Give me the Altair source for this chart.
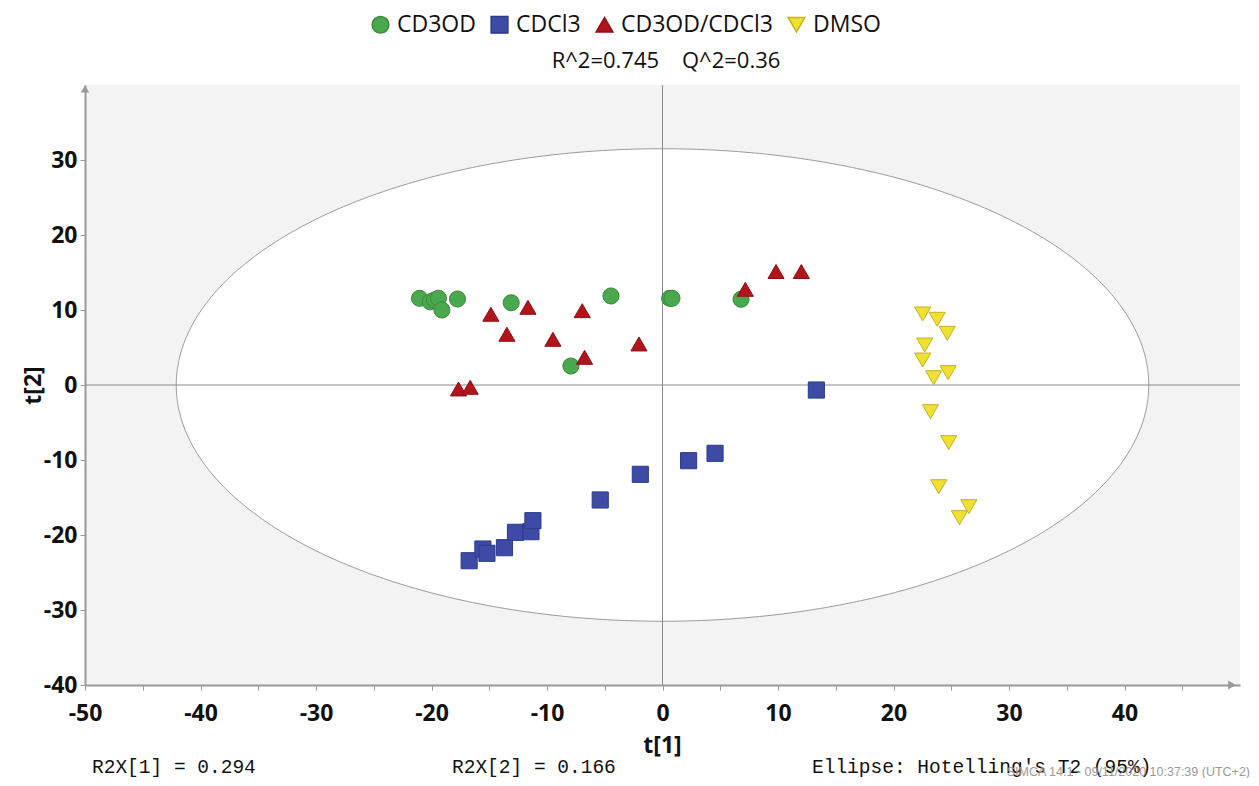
import numpy as np
import pandas as pd
import altair as alt

# ---- data ----
groups = ["CD3OD", "CDCl3", "CD3OD/CDCl3", "DMSO"]

cd3od_t1 = [-21.04, -20.11, -19.74, -19.40, -19.10, -17.75, -13.10, -7.93, -4.46, 0.62, 0.82, 6.80]
cd3od_t2 = [11.56, 11.10, 11.33, 11.56, 10.00, 11.47, 10.97, 2.53, 11.87, 11.56, 11.56, 11.43]

cdcl3_t1 = [-16.74, -15.55, -15.20, -13.68, -12.73, -11.39, -11.22, -5.39, -1.92, 2.26, 4.55, 13.32]
cdcl3_t2 = [-23.43, -21.87, -22.44, -21.69, -19.64, -19.56, -18.09, -15.33, -11.91, -10.09, -9.11, -0.67]

mix_t1 = [-14.86, -13.47, -11.65, -9.49, -6.95, -6.75, -2.04, -17.66, -16.65, 7.17, 9.83, 12.02]
mix_t2 = [9.43, 6.76, 10.36, 6.09, 9.91, 3.69, 5.47, -0.53, -0.31, 12.76, 15.13, 15.13]

dmso_t1 = [22.53, 23.78, 24.65, 22.70, 22.53, 23.48, 24.73, 23.20, 24.78, 23.92, 26.52, 25.71]
dmso_t2 = [9.47, 8.76, 6.89, 5.33, 3.33, 0.97, 1.64, -3.56, -7.69, -13.56, -16.23, -17.69]

ellipse_a = 42.1   # Hotelling's T2 semi-axis along t[1]
ellipse_b = 31.5   # semi-axis along t[2]

x_ticks = list(range(-50, 50, 5))
y_ticks = list(range(-40, 40, 5))

NB = "\u00a0"
subtitle = "R^2=0.745" + NB * 4 + "Q^2=0.36"
r2x1 = "R2X[1] = 0.294"
r2x2 = "R2X[2] = 0.166"
ell_txt = "Ellipse: Hotelling's T2 (95%)"
simca = "SIMCA 14.1 - 09/11/2020 10:37:39 (UTC+2)"

# ---- build tables ----
rows = []
for g, xs, ys in [(groups[0], cd3od_t1, cd3od_t2), (groups[1], cdcl3_t1, cdcl3_t2),
                  (groups[2], mix_t1, mix_t2), (groups[3], dmso_t1, dmso_t2)]:
    for a, b in zip(xs, ys):
        rows.append({"group": g, "t1": a, "t2": b})
pts = pd.DataFrame(rows)

th = np.linspace(0, np.pi, 361)
ell_fill = pd.DataFrame({"x": ellipse_a * np.cos(th), "ylo": -ellipse_b * np.sin(th),
                         "yhi": ellipse_b * np.sin(th)})
th2 = np.linspace(0, 2 * np.pi, 721)
ell_line = pd.DataFrame({"x": ellipse_a * np.cos(th2), "y": ellipse_b * np.sin(th2),
                         "o": np.arange(len(th2))})

W, H = 1155, 600
xscale = alt.Scale(domain=[-50, 50], nice=False, zero=False)
yscale = alt.Scale(domain=[-40, 40], nice=False, zero=False)

lab_expr = "datum.value % 10 == 0 ? '' + datum.value : ''"
x_axis = alt.Axis(values=x_ticks, labelExpr=lab_expr, grid=False, title="t[1]",
                  labelFont="Open Sans", labelFontWeight="bold", labelFontSize=23,
                  labelColor="#111", labelPadding=12, tickSize=5, tickColor="#999",
                  domainColor="#999", domainWidth=2, labelFlush=False,
                  titleFont="Open Sans", titleFontWeight="bold", titleFontSize=23,
                  titleColor="#111", titleX=577, titleY=60, titleBaseline="middle")
y_axis = alt.Axis(values=y_ticks, labelExpr=lab_expr, grid=False, title="t[2]",
                  labelFont="Open Sans", labelFontWeight="bold", labelFontSize=23,
                  labelColor="#111", labelPadding=3, tickSize=5, tickColor="#999",
                  domainColor="#999", domainWidth=2, labelFlush=False,
                  titleFont="Open Sans", titleFontWeight="bold", titleFontSize=23,
                  titleColor="#111", titleX=-52, titleY=300, titleAngle=-90,
                  titleBaseline="middle", titleAlign="center")

fill_base = alt.Chart(ell_fill).mark_area(color="white", opacity=1).encode(
    x=alt.X("x:Q", scale=xscale, axis=x_axis),
    y=alt.Y("ylo:Q", scale=yscale, axis=y_axis),
    y2="yhi:Q",
)
outline = alt.Chart(ell_line).mark_line(color="#9a9a9a", strokeWidth=1).encode(
    x=alt.X("x:Q", scale=xscale), y=alt.Y("y:Q", scale=yscale), order="o:Q")

zero_v = alt.Chart(pd.DataFrame({"v": [0]})).mark_rule(color="#8a8a8a", strokeWidth=1).encode(
    x=alt.X("v:Q", scale=xscale))
zero_h = alt.Chart(pd.DataFrame({"v": [0]})).mark_rule(color="#8a8a8a", strokeWidth=1).encode(
    y=alt.Y("v:Q", scale=yscale))

fills = ["#4aa84e", "#3d4ba6", "#b3141c", "#f0e032"]
strokes = ["#3a8a3c", "#2c3a8a", "#8e0f15", "#c4b220"]
shapes = ["circle", "square", "triangle-up", "triangle-down"]

leg = alt.Legend(title=None, orient="none", direction="horizontal",
                 legendX=284, legendY=-72, labelFont="Open Sans",
                 labelFontSize=23, labelColor="#111", symbolSize=280,
                 labelOffset=5, columnPadding=12, padding=0)

points = alt.Chart(pts).mark_point(filled=True, opacity=1, strokeWidth=1, size=260).encode(
    x=alt.X("t1:Q", scale=xscale),
    y=alt.Y("t2:Q", scale=yscale),
    fill=alt.Fill("group:N", scale=alt.Scale(domain=groups, range=fills), legend=leg),
    shape=alt.Shape("group:N", scale=alt.Scale(domain=groups, range=shapes), legend=leg),
    stroke=alt.Stroke("group:N", scale=alt.Scale(domain=groups, range=strokes), legend=leg),
)

one = pd.DataFrame({"a": [0]})
arrow_y = alt.Chart(one).mark_point(shape="triangle-up", filled=True, color="#999",
                                    size=70, opacity=1).encode(x=alt.value(0), y=alt.value(4))
arrow_x = alt.Chart(one).mark_point(shape="triangle-right", filled=True, color="#999",
                                    size=80, opacity=1).encode(x=alt.value(W - 8), y=alt.value(H))

def txt(s, x, y, **kw):
    return alt.Chart(one).mark_text(text=s, **kw).encode(x=alt.value(x), y=alt.value(y))

t_sub = txt(subtitle, 581, -24, font="Open Sans", fontSize=22, color="#111", align="center",
            baseline="middle")
t1 = txt(r2x1, 7, H + 82, font="Liberation Mono", fontSize=19.5, color="#111", align="left",
         baseline="middle")
t2 = txt(r2x2, 367, H + 82, font="Liberation Mono", fontSize=19.5, color="#111", align="left",
         baseline="middle")
t3 = txt(ell_txt, 727, H + 82, font="Liberation Mono", fontSize=19.5, color="#111",
         align="left", baseline="middle")
t4 = txt(simca, 1165, H + 91, font="Liberation Sans", fontSize=12.5, color="#9a9a9a",
         align="right", baseline="alphabetic")

chart = alt.layer(fill_base, outline, zero_v, zero_h, points, arrow_y, arrow_x,
                  t_sub, t1, t2, t3, t4).properties(
    width=W, height=H,
    autosize=alt.AutoSizeParams(type="none"),
    padding={"left": 77, "top": 77, "right": 11, "bottom": 93},
    background="white",
).configure_view(fill="#f3f3f3", stroke=None)

chart.save("out.html", embed_options={"renderer": "svg", "actions": False})
